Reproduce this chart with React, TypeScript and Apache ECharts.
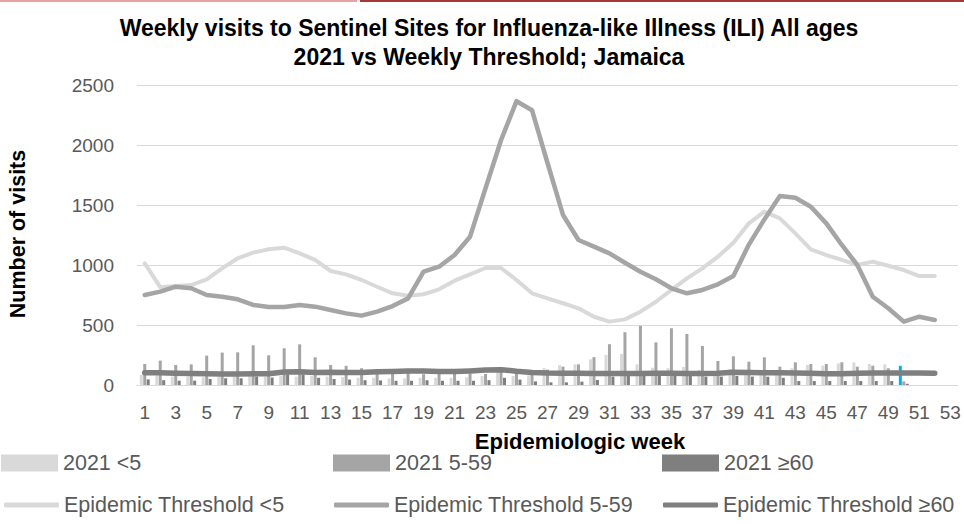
import React, { useEffect, useRef } from "react";
import * as echarts from "echarts";

const weeks = [
  "1", "2", "3", "4", "5", "6", "7", "8", "9", "10", "11", "12", "13", "14", "15", "16", "17", "18",
  "19", "20", "21", "22", "23", "24", "25", "26", "27", "28", "29", "30", "31", "32", "33", "34", "35",
  "36", "37", "38", "39", "40", "41", "42", "43", "44", "45", "46", "47", "48", "49", "50", "51", "52", "53",
];

// 2021 weekly visits (bars), weeks 1-50
const visitsUnder5 = [
  85, 80, 70, 70, 65, 70, 70, 75, 70, 75, 70, 75, 70, 65, 60, 60, 55, 55, 60, 60, 60, 65, 75, 115, 75,
  80, 140, 165, 172, 214, 250, 258, 172, 144, 139, 150, 125, 110, 133, 120, 125, 125, 139, 167, 161,
  180, 189, 175, 172, 160,
];
const visits5to59 = [
  175, 203, 167, 172, 245, 270, 272, 331, 247, 306, 339, 231, 167, 160, 140, 114, 100, 100, 90, 95, 95,
  95, 92, 114, 100, 90, 128, 153, 172, 232, 340, 440, 493, 355, 473, 425, 325, 200, 239, 194, 231, 153,
  189, 175, 175, 189, 153, 161, 139, 30,
];
const visits60plus = [
  47, 40, 36, 36, 50, 56, 56, 70, 62, 89, 89, 60, 50, 45, 40, 38, 35, 35, 40, 35, 35, 35, 40, 60, 45,
  30, 22, 22, 28, 42, 70, 80, 85, 80, 80, 75, 70, 70, 75, 70, 69, 60, 33, 33, 33, 33, 33, 33, 33, 10,
];

// Epidemic thresholds, weeks 1-52
const thresholdUnder5 = [
  1014, 815, 825, 833, 881, 972, 1056, 1103, 1131, 1144, 1097, 1042, 950, 922, 875, 819, 764, 744, 756,
  797, 869, 922, 975, 975, 875, 764, 722, 681, 639, 569, 528, 547, 611, 694, 792, 889, 972, 1069, 1186,
  1347, 1444, 1389, 1264, 1131, 1083, 1042, 1000, 1028, 994, 958, 908, 908,
];
const threshold5to59 = [
  750, 778, 819, 806, 750, 736, 714, 667, 650, 650, 667, 653, 625, 597, 578, 611, 658, 722, 944, 986,
  1083, 1236, 1640, 2040, 2365, 2290, 1850, 1417, 1208, 1153, 1097, 1019, 944, 881, 806, 764, 792, 839,
  908, 1170, 1380, 1575, 1560, 1486, 1347, 1167, 1000, 736, 639, 528, 569, 542,
];
const threshold60plus = [
  103, 102, 98, 96, 93, 92, 92, 93, 94, 108, 110, 105, 107, 105, 105, 110, 113, 116, 117, 113, 112, 117,
  124, 128, 115, 105, 100, 98, 97, 95, 95, 95, 96, 97, 97, 95, 95, 98, 106, 105, 103, 102, 100, 97, 93,
  93, 97, 100, 100, 100, 100, 98,
];

const highlightWeek = "50";
const yTicks = { min: 0, max: 2500, interval: 500 };

const C_LIGHT = "#d9d9d9";
const C_MID = "#a5a5a5";
const C_DARK = "#7f7f7f";
const C_BLUE = "#00b0f0";
const TICK_FONT = "Liberation Sans";
const TEXT_FONT = "Liberation Sans";

export default function App() {
  const ref = useRef<HTMLDivElement>(null);

  useEffect(() => {
    if (!ref.current) return;
    const chart = echarts.init(ref.current, null, { renderer: "svg" });

    const under5Data = visitsUnder5.map((v, i) =>
      weeks[i] === highlightWeek ? { value: v, itemStyle: { color: C_BLUE } } : v
    );

    const barCommon = { type: "bar", barWidth: 3, barGap: "15%" };
    const lineCommon = {
      type: "line",
      symbol: "none",
      smooth: false,
    };

    const legendText = { color: "#595959", fontSize: 21.5, fontFamily: TEXT_FONT, lineHeight: 21 };
    const mkLegend = (name: string, left: number, top: number, isLine: boolean) => ({
      data: [name],
      left,
      top,
      padding: 0,
      orient: "horizontal",
      icon: isLine ? "roundRect" : "rect",
      itemWidth: isLine ? 55 : 57,
      itemHeight: isLine ? 5 : 17,
      textStyle: legendText,
      selectedMode: false,
    });

    chart.setOption({
      animation: false,
      backgroundColor: "#ffffff",
      grid: { left: 137, right: 6, top: 85, bottom: 139, containLabel: false },
      xAxis: {
        type: "category",
        data: weeks,
        boundaryGap: true,
        axisLine: { show: true, lineStyle: { color: C_LIGHT, width: 1 } },
        axisTick: { show: false },
        axisLabel: {
          interval: 1,
          color: "#595959",
          fontSize: 19,
          fontFamily: TICK_FONT,
          margin: 18,
        },
      },
      yAxis: {
        type: "value",
        min: yTicks.min,
        max: yTicks.max,
        interval: yTicks.interval,
        axisLine: { show: false },
        axisTick: { show: false },
        splitLine: { lineStyle: { color: C_LIGHT, width: 1 } },
        axisLabel: {
          color: "#595959",
          fontSize: 19,
          fontFamily: TICK_FONT,
          margin: 23,
          formatter: (v: number) => String(v),
        },
      },
      legend: [
        mkLegend("2021 <5", 1, 452, false),
        mkLegend("2021 5-59", 333, 452, false),
        mkLegend("2021 ≥60", 662, 452, false),
        mkLegend("Epidemic Threshold <5", 4, 494, true),
        mkLegend("Epidemic Threshold 5-59", 334, 494, true),
        mkLegend("Epidemic Threshold ≥60", 663, 494, true),
      ],
      series: [
        { ...barCommon, name: "2021 <5", data: under5Data, itemStyle: { color: C_LIGHT } },
        { ...barCommon, name: "2021 5-59", data: visits5to59, itemStyle: { color: C_MID } },
        { ...barCommon, name: "2021 ≥60", data: visits60plus, itemStyle: { color: C_DARK } },
        {
          ...lineCommon,
          name: "Epidemic Threshold <5",
          data: thresholdUnder5,
          itemStyle: { color: C_LIGHT },
          lineStyle: { color: C_LIGHT, width: 4, cap: "round", join: "round" },
        },
        {
          ...lineCommon,
          name: "Epidemic Threshold 5-59",
          data: threshold5to59,
          itemStyle: { color: C_MID },
          lineStyle: { color: C_MID, width: 4.5, cap: "round", join: "round" },
        },
        {
          ...lineCommon,
          name: "Epidemic Threshold ≥60",
          data: threshold60plus,
          itemStyle: { color: C_DARK },
          lineStyle: { color: C_DARK, width: 5.5, cap: "round", join: "round" },
        },
      ],
      graphic: [
        { type: "rect", shape: { x: 0, y: 0, width: 357, height: 2 }, style: { fill: "#e6a3a3" } },
        { type: "rect", shape: { x: 360, y: 0, width: 604, height: 2 }, style: { fill: "#a63a3a" } },
        {
          type: "text",
          x: 489,
          y: 28,
          style: {
            text: "Weekly visits to Sentinel Sites for Influenza-like Illness (ILI) All ages",
            fill: "#000000",
            font: `bold 23px "${TEXT_FONT}"`,
            textAlign: "center",
            textVerticalAlign: "middle",
          },
        },
        {
          type: "text",
          x: 489,
          y: 57,
          style: {
            text: "2021 vs Weekly Threshold; Jamaica",
            fill: "#000000",
            font: `bold 23px "${TEXT_FONT}"`,
            textAlign: "center",
            textVerticalAlign: "middle",
          },
        },
        {
          type: "text",
          x: 18,
          y: 234,
          rotation: Math.PI / 2,
          style: {
            text: "Number of visits",
            fill: "#000000",
            font: `bold 21.5px "${TEXT_FONT}"`,
            textAlign: "center",
            textVerticalAlign: "middle",
          },
        },
        {
          type: "text",
          x: 580,
          y: 441,
          style: {
            text: "Epidemiologic week",
            fill: "#000000",
            font: `bold 22px "${TEXT_FONT}"`,
            textAlign: "center",
            textVerticalAlign: "middle",
          },
        },
      ],
    });

    return () => chart.dispose();
  }, []);

  return (
    <div
      ref={ref}
      style={{ position: "fixed", left: 0, top: 0, width: 964, height: 524, background: "#fff" }}
    />
  );
}
